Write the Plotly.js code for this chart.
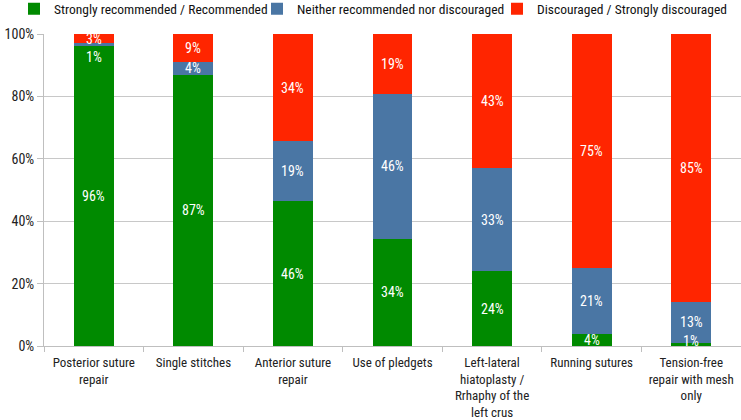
<!DOCTYPE html>
<html>
<head>
<meta charset="utf-8">
<script src="https://cdn.plot.ly/plotly-3.0.1.min.js"></script>
<style>html,body{margin:0;padding:0;background:#fff;}#chart{width:741px;height:420px;}</style>
</head>
<body>
<div id="chart"></div>
<script>
const categories = [
  "Posterior suture<br>repair",
  "Single stitches",
  "Anterior suture<br>repair",
  "Use of pledgets",
  "Left-lateral<br>hiatoplasty /<br>Rrhaphy of the<br>left crus",
  "Running sutures",
  "Tension-free<br>repair with mesh<br>only"
];
const seriesNames = [
  "Strongly recommended / Recommended",
  "Neither recommended nor discouraged",
  "Discouraged / Strongly discouraged"
];
const recommended = [96, 87, 46, 34, 24, 4, 1];
const neither     = [1, 4, 19, 46, 33, 21, 13];
const discouraged = [3, 9, 34, 19, 43, 75, 85];
const yTicks = [0, 20, 40, 60, 80, 100];
const yTickLabels = ["0%", "20%", "40%", "60%", "80%", "100%"];

const colors = ["#008A00", "#4A76A4", "#FF2500"];
const series = [recommended, neither, discouraged];
const FONT = "Liberation Sans Narrow, Roboto Condensed, Arial Narrow, Roboto, sans-serif";
const legendIds = ["legend", "legend2", "legend3"];
const legendX = [14, 257, 497]; // left edge of each legend box, px

const traces = series.map((vals, i) => ({
  type: "bar",
  name: seriesNames[i],
  x: categories,
  y: vals,
  marker: {color: colors[i]},
  legend: legendIds[i],
  hoverinfo: "skip"
}));

// label annotations at the middle of each normalized segment
const annotations = [];
categories.forEach((cat, ci) => {
  const total = series.reduce((s, arr) => s + arr[ci], 0);
  let cum = 0;
  const labels = series.map((arr, si) => {
    const v = arr[ci] / total * 100;
    const mid = cum + v / 2;
    cum += v;
    return {si, mid, text: arr[ci] + "%"};
  });
  let prev = null;
  for (let k = labels.length - 1; k >= 0; k--) {
    let y = labels[k].mid;
    if (prev !== null && prev - y < 5) y = prev - 6;
    if (y < 1.6) y = 1.6;
    labels[k].y = y;
    prev = y;
  }
  labels.forEach(l => annotations.push({
    x: cat, y: l.y, xref: "x", yref: "y",
    text: l.text, showarrow: false,
    font: {family: FONT, size: 14, color: "#ffffff"}
  }));
});

const M = {l: 44, r: 0, t: 34, b: 74, autoexpand: false};
const plotH = 420 - M.t - M.b;

const layout = {
  width: 741, height: 420,
  margin: M,
  paper_bgcolor: "#ffffff", plot_bgcolor: "#ffffff",
  barmode: "stack", barnorm: "percent", bargap: 0.6,
  font: {family: FONT, size: 14, color: "#222222"},
  showlegend: true,
  xaxis: {
    type: "category", automargin: false,
    tickson: "boundaries", ticks: "outside", ticklen: 5, tickcolor: "#BFBFBF",
    showline: true, linecolor: "#BFBFBF", linewidth: 1,
    showgrid: false, tickangle: 0, ticklabelstandoff: 4,
    tickfont: {family: FONT, size: 13, color: "#222222"}
  },
  yaxis: {
    range: [0, 100], tickvals: yTicks, ticktext: yTickLabels, automargin: false,
    ticks: "outside", ticklen: 6, tickcolor: "#BFBFBF",
    showline: true, linecolor: "#BFBFBF", linewidth: 1,
    showgrid: true, gridcolor: "#C8C8C8", gridwidth: 1,
    zeroline: false,
    tickfont: {family: FONT, size: 14, color: "#222222"}
  },
  annotations: annotations
};
legendIds.forEach((id, i) => {
  layout[id] = {
    orientation: "h", xref: "container", yref: "paper",
    x: legendX[i] / 741, xanchor: "left",
    y: 1 + (M.t - 9) / plotH, yanchor: "middle",
    bgcolor: "rgba(0,0,0,0)", borderwidth: 0,
    font: {family: FONT, size: 13.5, color: "#111111"}
  };
});

Plotly.newPlot("chart", traces, layout, {displayModeBar: false, staticPlot: true});
</script>
</body>
</html>
